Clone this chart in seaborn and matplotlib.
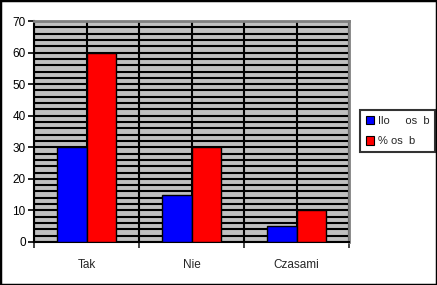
import matplotlib
matplotlib.use("Agg")
import matplotlib.pyplot as plt
import matplotlib.patches as mpatches
import seaborn as sns
import pandas as pd
import numpy as np

categories = ["Tak", "Nie", "Czasami"]
series_names = ["Ilo     os  b", "% os  b"]
ilosc = [30, 15, 5]
procent = [60, 30, 10]
y_ticks = [0, 10, 20, 30, 40, 50, 60, 70]

df = pd.DataFrame({
    "cat": categories * 2,
    "series": [series_names[0]] * 3 + [series_names[1]] * 3,
    "val": ilosc + procent,
})

sns.set_style("white")
plt.rcParams["font.family"] = ["Liberation Sans", "DejaVu Sans"]

fig = plt.figure(figsize=(4.37, 2.85), dpi=100)
ax = fig.add_axes([34/437, 1-242/285, (349-34)/437, (242-21)/285])
ax.set_facecolor("#C0C0C0")

sns.barplot(data=df, x="cat", y="val", hue="series", order=categories,
            hue_order=series_names, palette=["#0000FF", "#FF0000"],
            width=0.56, gap=0, edgecolor="black", linewidth=1.0,
            saturation=1, ax=ax, legend=False, zorder=3)

ax.set_xlim(-0.5, 2.5)
ax.set_ylim(0, 70)
ax.set_yticks(y_ticks)
ax.set_yticks(np.arange(0, 71, 2), minor=True)
ax.set_xticks([0, 1, 2])
ax.set_xticklabels(categories)
ax.set_xticks([-0.5, 0.5, 1.5, 2.5], minor=True)
ax.set_xlabel("")
ax.set_ylabel("")

ax.set_axisbelow(True)
ax.grid(True, which="both", axis="both", color="black", linewidth=1.5, zorder=0)

ax.tick_params(axis="y", which="major", direction="out", length=4, width=1.2,
               labelsize=8.5, pad=2, left=True, colors="black")
ax.tick_params(axis="y", which="minor", length=0, left=False)
ax.tick_params(axis="x", which="major", length=0, labelsize=8.5, pad=12, bottom=True)
ax.tick_params(axis="x", which="minor", direction="out", length=4, width=1.2, bottom=True)

for side in ["left", "bottom"]:
    ax.spines[side].set_color("black")
    ax.spines[side].set_linewidth(1.5)
for side in ["top", "right"]:
    ax.spines[side].set_visible(True)
    ax.spines[side].set_color("#808080")
    ax.spines[side].set_linewidth(2)

handles = [mpatches.Patch(facecolor="#0000FF", edgecolor="black", linewidth=0.8),
           mpatches.Patch(facecolor="#FF0000", edgecolor="black", linewidth=0.8)]
leg = fig.legend(handles, series_names, loc="center left",
                 bbox_to_anchor=(360/437, 1-131/285), frameon=True,
                 fontsize=8, handlelength=0.8, handleheight=0.8,
                 handletextpad=0.3, borderpad=0.5, labelspacing=0.9,
                 fancybox=False, borderaxespad=0)
leg.get_frame().set_edgecolor("black")
leg.get_frame().set_linewidth(1.5)

fig.patches.append(mpatches.Rectangle((0, 0), 1, 1, transform=fig.transFigure,
                                      fill=False, edgecolor="black", linewidth=2.5))

fig.savefig("out.png", dpi=100)
